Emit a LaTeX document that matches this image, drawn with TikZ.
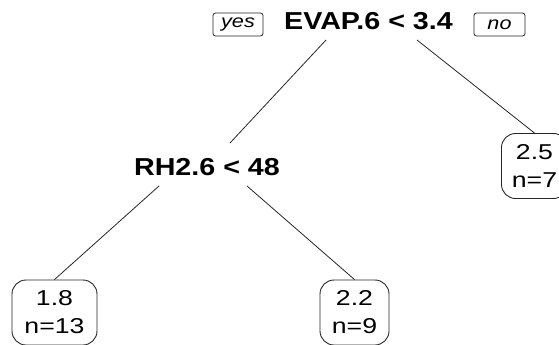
\documentclass[tikz,border=0pt]{standalone}
\usepackage{fontspec}
\setmainfont{Liberation Sans}
\newfontfamily\splitfont{Liberation Sans}[FakeStretch=1.17]
\newfontfamily\leaffont{Liberation Sans}[FakeStretch=1.24]
\newfontfamily\tagfont{Liberation Sans}[FakeStretch=1.2]
\begin{document}
\begin{tikzpicture}[x=1pt,y=-1pt,
  split/.style={font=\splitfont\fontsize{24.5}{27}\selectfont\bfseries, inner sep=0pt},
  leaf/.style={draw=black!85, line width=0.9pt, rounded corners=14pt,
    align=center, inner sep=0pt, minimum height=65pt,
    font=\leaffont\fontsize{21.5}{28}\selectfont},
  tag/.style={draw=black!85, line width=0.8pt, rounded corners=2.5pt,
    inner sep=0pt, minimum height=23pt, font=\tagfont\fontsize{18}{20}\selectfont\itshape},
  branch/.style={draw=black!85, line width=0.8pt}]
\useasboundingbox (0,0) rectangle (559,345);
% split labels
\node[split] (root) at (368.5,21) {EVAP.6 < 3.4};
\node[split] (rh) at (207,167.5) {RH2.6 < 48};
% yes / no tags
\node[tag, minimum width=50pt] (yes) at (238,24.5) {yes};
\node[tag, minimum width=51pt] (no) at (499.5,24.5) {no};
% leaves
\node[leaf, minimum width=85pt] (l18) at (54.5,312.5) {1.8\\n=13};
\node[leaf, minimum width=69pt] (l22) at (354.5,312.5) {2.2\\n=9};
\node[leaf, minimum width=66pt] (l25) at (534.5,166) {2.5\\n=7};
% branches
\draw[branch] ([shift={(-42.5,19)}]root.center) -- ([shift={(23,-24.5)}]rh.center);
\draw[branch] ([shift={(48.5,19)}]root.center) -- (l25.north);
\draw[branch] ([shift={(-48,18.5)}]rh.center) -- (l18.north);
\draw[branch] ([shift={(40,18.5)}]rh.center) -- (l22.north);
\end{tikzpicture}
\end{document}
